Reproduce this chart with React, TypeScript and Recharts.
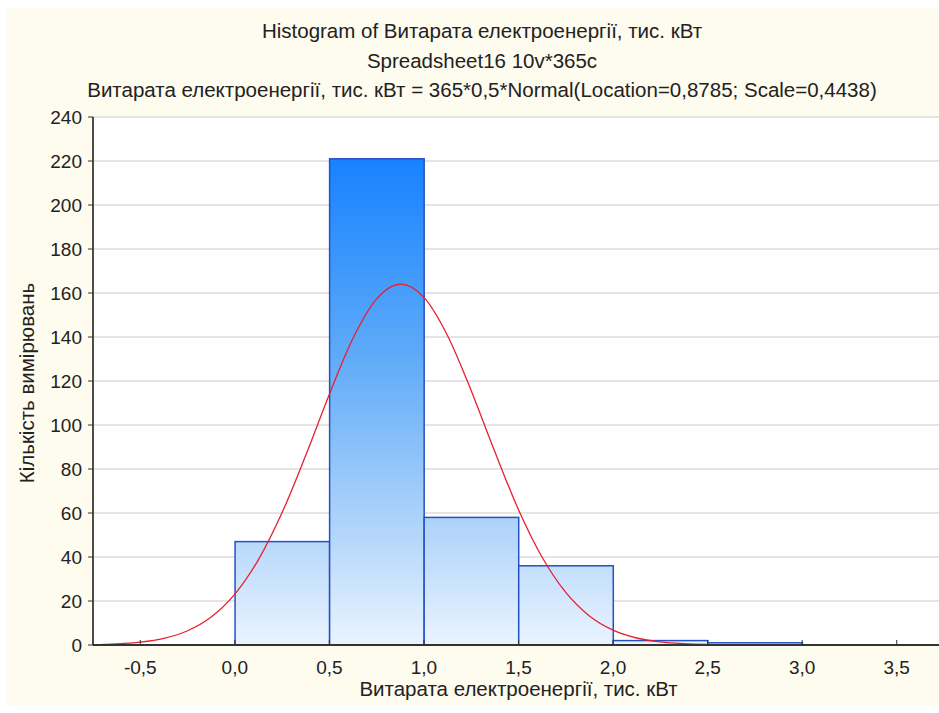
import {
  ComposedChart,
  Bar,
  Line,
  XAxis,
  YAxis,
  CartesianGrid,
} from "recharts";

// histogram bins (centre of each 0.5-wide bin) and counts
const binCenters = [0.25, 0.75, 1.25, 1.75, 2.25, 2.75];
const binCounts = [47, 221, 58, 36, 2, 1];

// fitted normal curve
const curveX = [
  -0.7, -0.625, -0.5, -0.375, -0.25, -0.125, 0, 0.125, 0.25, 0.375, 0.5,
  0.625, 0.75, 0.875, 1.0, 1.125, 1.25, 1.375, 1.5, 1.625, 1.75, 1.875, 2.0,
  2.125, 2.25, 2.375, 2.5, 2.625,
];
const curveY = [
  0.29, 0.53, 1.32, 3.04, 6.47, 12.7, 23.1, 38.8, 60.2, 86.2, 114.0, 139.4,
  157.3, 164.0, 158.0, 140.6, 115.6, 87.8, 61.5, 39.9, 23.9, 13.2, 6.74, 3.18,
  1.38, 0.56, 0.21, 0.07,
];

const xTicks = [-0.5, 0, 0.5, 1.0, 1.5, 2.0, 2.5, 3.0, 3.5];
const yTicks = [0, 20, 40, 60, 80, 100, 120, 140, 160, 180, 200, 220, 240];

const titleLines = [
  "Histogram of Витарата електроенергії, тис. кВт",
  "Spreadsheet16 10v*365c",
  "Витарата електроенергії, тис. кВт = 365*0,5*Normal(Location=0,8785; Scale=0,4438)",
];
const xLabel = "Витарата електроенергії, тис. кВт";
const yLabel = "Кількість вимірювань";

const binRows = binCenters.map((x, i) => ({ x, count: binCounts[i] }));
const curveRows = curveX.map((x, i) => ({ x, curve: curveY[i] }));

const xDomain: [number, number] = [-0.75, 3.75];
const binWidth = 0.5;

const fmt = (v: number) => v.toFixed(1).replace(".", ",");
const font = "'Liberation Sans', Arial, sans-serif";
const textColor = "#222";

const W = 950;
const H = 713;
const margin = { top: 117, right: 6, bottom: 38, left: 33 };
const yAxisW = 60;
const plotW = W - margin.left - margin.right - yAxisW;
const binPx = (binWidth / (xDomain[1] - xDomain[0])) * plotW;

// bars touch each other like a real histogram: widen each bar to the full bin
function BinShape(props: any) {
  const { x, y, width, height } = props;
  if (!height || height <= 0) return null;
  const cx = x + width / 2;
  return (
    <rect
      x={cx - binPx / 2}
      y={y}
      width={binPx}
      height={height}
      fill="url(#barGrad)"
      stroke="#2452c4"
      strokeWidth={1.5}
    />
  );
}

export default function App() {
  return (
    <div
      style={{
        position: "fixed",
        left: 0,
        top: 0,
        width: 939,
        height: 713,
        overflow: "hidden",
        background: "#fff",
        fontFamily: font,
      }}
    >
      <svg width="0" height="0" style={{ position: "absolute" }}>
        <defs>
          <linearGradient
            id="barGrad"
            gradientUnits="userSpaceOnUse"
            x1="0"
            y1="160"
            x2="0"
            y2="645"
          >
            <stop offset="0" stopColor="#1882ff" />
            <stop offset="0.4" stopColor="#5eaaf8" />
            <stop offset="0.78" stopColor="#b6d7fa" />
            <stop offset="1" stopColor="#eaf4ff" />
          </linearGradient>
        </defs>
      </svg>
      <div
        style={{
          position: "absolute",
          left: 7,
          top: 8,
          width: 940,
          height: 697,
          background: "#fefbef",
        }}
      />
      {titleLines.map((t, i) => (
        <div
          key={i}
          style={{
            position: "absolute",
            left: 0,
            width: 964,
            top: 19 + i * 29.5,
            textAlign: "center",
            fontSize: 20.5,
            color: textColor,
            whiteSpace: "nowrap",
          }}
        >
          {t}
        </div>
      ))}
      <div
        style={{
          position: "absolute",
          left: 93,
          width: 851,
          top: 677,
          textAlign: "center",
          fontSize: 20.5,
          color: textColor,
        }}
      >
        {xLabel}
      </div>
      <div
        style={{
          position: "absolute",
          left: 27,
          top: 383,
          transform: "translate(-50%, -50%) rotate(-90deg)",
          fontSize: 20.5,
          color: textColor,
          whiteSpace: "nowrap",
        }}
      >
        {yLabel}
      </div>
      <div style={{ position: "absolute", left: 0, top: 0 }}>
        <ComposedChart
          width={W}
          height={H}
          data={binRows}
          barCategoryGap="0%"
          barGap={0}
          margin={margin}
        >
          <CartesianGrid
            vertical={false}
            stroke="#dcdcdc"
            strokeWidth={1.5}
            fill="#ffffff"
            fillOpacity={1}
          />
          <XAxis
            dataKey="x"
            type="number"
            domain={xDomain}
            ticks={xTicks}
            tickFormatter={fmt}
            allowDataOverflow
            height={30}
            tickSize={-5}
            tickMargin={21}
            axisLine={{ stroke: "#333", strokeWidth: 2 }}
            tickLine={{ stroke: "#333" }}
            tick={{ fill: textColor, fontSize: 19, fontFamily: font }}
          />
          <XAxis
            xAxisId="top"
            orientation="top"
            dataKey="x"
            type="number"
            domain={xDomain}
            ticks={xTicks}
            tickFormatter={() => ""}
            allowDataOverflow
            height={0}
            mirror
            tickSize={5}
            axisLine={{ stroke: "#111", strokeWidth: 1.5 }}
            tickLine={{ stroke: "#333" }}
          />
          <YAxis
            type="number"
            domain={[0, 240]}
            ticks={yTicks}
            width={yAxisW}
            tickSize={5}
            tickMargin={6}
            axisLine={{ stroke: "#111", strokeWidth: 1.5 }}
            tickLine={{ stroke: "#333" }}
            tick={{ fill: textColor, fontSize: 19, fontFamily: font }}
          />
          <Bar
            dataKey="count"
            shape={BinShape}
            fill="url(#barGrad)"
            stroke="#2452c4"
            strokeWidth={1.5}
            isAnimationActive={false}
          />
          <Line
            xAxisId="top"
            data={curveRows}
            dataKey="curve"
            type="monotone"
            stroke="#e8202e"
            strokeWidth={1.3}
            dot={false}
            isAnimationActive={false}
          />
        </ComposedChart>
      </div>
    </div>
  );
}
